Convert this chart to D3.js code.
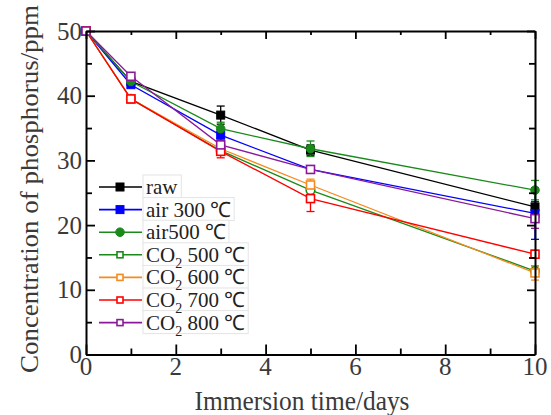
<!DOCTYPE html>
<html>
<head>
<meta charset="utf-8">
<script src="https://cdn.jsdelivr.net/npm/d3@7"></script>
<style>
  html, body { margin: 0; padding: 0; background: #fff; }
  svg { display: block; font-family: "Liberation Serif", "Times New Roman", serif; }
</style>
</head>
<body>
<svg id="chart" width="551" height="415"></svg>
<script>
// Immersion time (days)
const days = [0, 1, 3, 5, 10];

// Phosphorus concentration (ppm) per sample
const raw     = [50, 42.2, 37.0, 31.6, 22.8];
const air300  = [50, 41.7, 33.9, 28.6, 21.8];
const air500  = [50, 42.2, 34.9, 31.8, 25.4];
const co2_500 = [50, 39.5, 31.5, 25.4, 12.9];
const co2_600 = [50, 39.5, 31.8, 26.2, 12.6];
const co2_700 = [50, 39.5, 31.4, 24.1, 15.5];
const co2_800 = [50, 43.0, 32.4, 28.6, 21.0];

// Error bar half-widths (ppm)
const rawErr     = [0, 0.4, 1.4, 0.8, 0.8];
const air300Err  = [0, 0.4, 0.8, 0.5, 4.0];
const air500Err  = [0, 0.4, 1.0, 1.2, 1.5];
const co2_500Err = [0, 0.3, 0.6, 0.8, 0.8];
const co2_600Err = [0, 0.3, 0.6, 0.9, 1.1];
const co2_700Err = [0, 0.6, 1.0, 2.0, 0.6];
const co2_800Err = [0, 0.5, 1.0, 0.5, 1.5];

const seriesNames  = ["raw", "air 300 ℃", "air500 ℃", "CO2 500℃", "CO2 600℃", "CO2 700℃", "CO2 800℃"];
const seriesColors = ["#000000", "#0000ff", "#1a8a1a", "#1a8a1a", "#f58a1f", "#ff0000", "#8a1a9a"];
const seriesShapes = ["square", "square", "circle", "circle", "square", "square", "square"];
const seriesFilled = [true, true, true, false, false, false, false];
const seriesValues = [raw, air300, air500, co2_500, co2_600, co2_700, co2_800];
const seriesErrors = [rawErr, air300Err, air500Err, co2_500Err, co2_600Err, co2_700Err, co2_800Err];

const xTicks = [0, 2, 4, 6, 8, 10];
const yTicks = [0, 10, 20, 30, 40, 50];

const svg = d3.select("#chart");
const plotLeft = 86, plotRight = 535, plotTop = 31, plotBottom = 354.5;

const x = d3.scaleLinear().domain([0, 10]).range([plotLeft, plotRight]);
const y = d3.scaleLinear().domain([0, 50]).range([plotBottom, plotTop]);

// ---- data: lines, error bars, markers ----
const lineGen = d3.line().x((d, i) => x(days[i])).y(d => y(d));

const series = seriesNames.map((name, k) => ({
  name, color: seriesColors[k], shape: seriesShapes[k], filled: seriesFilled[k],
  values: seriesValues[k], errors: seriesErrors[k]
}));

const plot = svg.append("g");

function marker(g, s, cx, cy) {
  if (s.shape === "square") {
    g.append("rect")
      .attr("x", cx - 4).attr("y", cy - 4).attr("width", 8).attr("height", 8)
      .attr("fill", s.filled ? s.color : "#fff")
      .attr("stroke", s.color).attr("stroke-width", s.filled ? 1 : 1.6);
  } else {
    g.append("circle")
      .attr("cx", cx).attr("cy", cy).attr("r", 4.3)
      .attr("fill", s.filled ? s.color : "#fff")
      .attr("stroke", s.color).attr("stroke-width", s.filled ? 1 : 1.6);
  }
}

series.forEach(s => {
  const g = plot.append("g");
  g.append("path")
    .datum(s.values)
    .attr("d", lineGen)
    .attr("fill", "none")
    .attr("stroke", s.color)
    .attr("stroke-width", 1.3);
  s.values.forEach((v, i) => {
    const e = s.errors[i];
    if (e > 0) {
      const cx = x(days[i]);
      g.append("line").attr("x1", cx).attr("x2", cx).attr("y1", y(v - e)).attr("y2", y(v + e))
        .attr("stroke", s.color).attr("stroke-width", 1.3);
      [v - e, v + e].forEach(t => {
        g.append("line").attr("x1", cx - 4).attr("x2", cx + 4).attr("y1", y(t)).attr("y2", y(t))
          .attr("stroke", s.color).attr("stroke-width", 1.3);
      });
    }
  });
});
series.forEach(s => {
  const g = plot.append("g");
  s.values.forEach((v, i) => marker(g, s, x(days[i]), y(v)));
});

// ---- axes frame with inward ticks on all four sides ----
const minorX = d3.range(1, 10, 2);
const minorY = d3.range(5, 50, 10);

function styleAxis(sel) {
  sel.selectAll("path").attr("stroke", "#000").attr("stroke-width", 2);
  sel.selectAll("line").attr("stroke", "#000").attr("stroke-width", 1.8);
}

svg.append("g").attr("transform", `translate(0,${plotBottom})`)
  .call(d3.axisBottom(x).tickValues(xTicks).tickSizeInner(-10).tickSizeOuter(0).tickFormat("")).call(styleAxis);
svg.append("g").attr("transform", `translate(0,${plotTop})`)
  .call(d3.axisTop(x).tickValues(xTicks).tickSizeInner(-8).tickSizeOuter(0).tickFormat("")).call(styleAxis);
svg.append("g").attr("transform", `translate(${plotLeft},0)`)
  .call(d3.axisLeft(y).tickValues(yTicks).tickSizeInner(-9).tickSizeOuter(0).tickFormat("")).call(styleAxis);
svg.append("g").attr("transform", `translate(${plotRight},0)`)
  .call(d3.axisRight(y).tickValues(yTicks).tickSizeInner(-8).tickSizeOuter(0).tickFormat("")).call(styleAxis);

svg.append("g").attr("transform", `translate(0,${plotBottom})`)
  .call(d3.axisBottom(x).tickValues(minorX).tickSizeInner(-6).tickSizeOuter(0).tickFormat(""))
  .call(styleAxis).select(".domain").remove();
svg.append("g").attr("transform", `translate(0,${plotTop})`)
  .call(d3.axisTop(x).tickValues(minorX).tickSizeInner(-4).tickSizeOuter(0).tickFormat(""))
  .call(styleAxis).select(".domain").remove();
svg.append("g").attr("transform", `translate(${plotLeft},0)`)
  .call(d3.axisLeft(y).tickValues(minorY).tickSizeInner(-6).tickSizeOuter(0).tickFormat(""))
  .call(styleAxis).select(".domain").remove();
svg.append("g").attr("transform", `translate(${plotRight},0)`)
  .call(d3.axisRight(y).tickValues(minorY).tickSizeInner(-6).tickSizeOuter(0).tickFormat(""))
  .call(styleAxis).select(".domain").remove();

// ---- tick labels ----
const labelColor = "#3a3a3a";
svg.append("g").selectAll("text").data(xTicks).join("text")
  .attr("x", d => x(d)).attr("y", 375)
  .attr("text-anchor", "middle")
  .attr("font-size", 25).attr("fill", labelColor)
  .text(d => d);
svg.append("g").selectAll("text").data(yTicks).join("text")
  .attr("x", 82).attr("y", d => y(d) + 8.5)
  .attr("text-anchor", "end")
  .attr("font-size", 25).attr("fill", labelColor)
  .text(d => d);

// ---- axis titles ----
svg.append("text")
  .attr("x", 302).attr("y", 410)
  .attr("text-anchor", "middle")
  .attr("font-size", 27).attr("fill", labelColor)
  .attr("textLength", 215).attr("lengthAdjust", "spacingAndGlyphs")
  .text("Immersion time/days");
svg.append("text")
  .attr("transform", "translate(38,189) rotate(-90)")
  .attr("text-anchor", "middle")
  .attr("font-size", 25).attr("fill", labelColor)
  .attr("textLength", 368).attr("lengthAdjust", "spacingAndGlyphs")
  .text("Concentration of phosphorus/ppm");

// ---- legend ----
const legend = svg.append("g");
const rowY = i => 187 + i * 22.6;
const bgLayer = legend.append("g");
series.forEach((s, i) => {
  const cy = rowY(i);
  legend.append("line").attr("x1", 99).attr("x2", 142).attr("y1", cy).attr("y2", cy)
    .attr("stroke", s.color).attr("stroke-width", 1.6);
  const g = legend.append("g");
  if (s.filled) {
    marker(g, s, 120, cy);
  } else {
    g.append("rect").attr("x", 117).attr("y", cy - 3).attr("width", 6).attr("height", 6)
      .attr("fill", "#fff").attr("stroke", s.color).attr("stroke-width", 1.6);
  }
  const t = legend.append("text")
    .attr("x", 146).attr("y", cy + 7)
    .attr("font-size", 21).attr("fill", "#222");
  if (s.name.startsWith("CO2")) {
    t.append("tspan").text("CO");
    t.append("tspan").attr("font-size", 14).attr("dy", 6).text("2");
    t.append("tspan").attr("dy", -6).text(" " + s.name.slice(3).replace("℃", " ℃"));
  } else {
    t.text(s.name);
  }
  const bb = t.node().getBBox();
  bgLayer.append("rect")
    .attr("x", bb.x - 3).attr("y", cy - 12).attr("width", bb.width + 6).attr("height", 23)
    .attr("fill", "#fff").attr("stroke", "#e4e4e4").attr("stroke-width", 1);
});
</script>
</body>
</html>
